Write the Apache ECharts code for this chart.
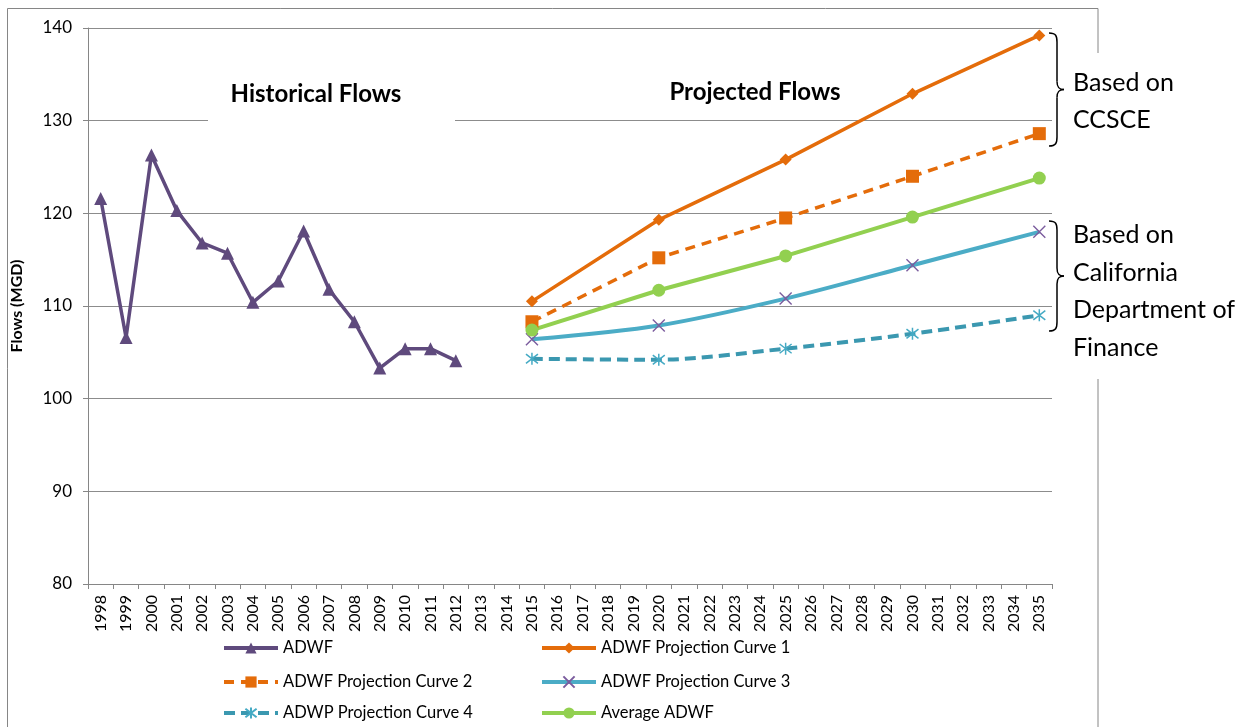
<!DOCTYPE html>
<html>
<head>
<meta charset="utf-8">
<title>Historical and Projected ADWF</title>
<script src="https://cdn.jsdelivr.net/npm/echarts@6/dist/echarts.min.js"></script>
<style>
  html, body { margin: 0; padding: 0; background: #fff; }
  #chart { width: 1243px; height: 727px; }
</style>
</head>
<body>
<div id="chart"></div>
<script>
// Years on the category axis
const years = [];
for (let y = 1998; y <= 2035; y++) years.push(String(y));

// Historical average dry weather flow (MGD), 1998-2012
const histYears = ['1998','1999','2000','2001','2002','2003','2004','2005','2006','2007','2008','2009','2010','2011','2012'];
const adwf = [121.6, 106.6, 126.3, 120.3, 116.8, 115.7, 110.4, 112.7, 118.1, 111.8, 108.3, 103.3, 105.4, 105.4, 104.1];

// Projection years and curves (MGD)
const projYears = ['2015','2020','2025','2030','2035'];
const curve1 = [110.5, 119.3, 125.8, 132.9, 139.2];
const curve2 = [108.3, 115.2, 119.5, 124.0, 128.6];
const curve3 = [106.4, 107.9, 110.8, 114.4, 118.0];
const curve4 = [104.3, 104.2, 105.4, 107.0, 109.0];
const avgAdwf = [107.4, 111.7, 115.4, 119.6, 123.8];

const yTicks = { min: 80, max: 140, interval: 10 };

const FONT = 'Lato, "Open Sans", sans-serif';

const pairs = (xs, vs) => xs.map((x, i) => [x, vs[i]]);

const xMark = 'path://M0,0L10,10M10,0L0,10';
const starMark = 'path://M0,0L10,10M10,0L0,10M5,-1.5L5,11.5';

// Right-hand curly brace built from bezier pieces
function brace(x, top, bottom) {
  const mid = (top + bottom) / 2;
  const sx = x + 8, tip = x + 15;
  const st = { fill: 'none', stroke: '#000', lineWidth: 1.5 };
  return [
    { type: 'bezierCurve', z: 10, shape: { x1: x, y1: top, cpx1: x + 7, cpy1: top, cpx2: sx, cpy2: top + 3, x2: sx, y2: top + 9 }, style: st },
    { type: 'line', z: 10, shape: { x1: sx, y1: top + 9, x2: sx, y2: mid - 8 }, style: st },
    { type: 'bezierCurve', z: 10, shape: { x1: sx, y1: mid - 8, cpx1: sx, cpy1: mid - 2, cpx2: sx + 2, cpy2: mid, x2: tip, y2: mid }, style: st },
    { type: 'bezierCurve', z: 10, shape: { x1: tip, y1: mid, cpx1: sx + 2, cpy1: mid, cpx2: sx, cpy2: mid + 2, x2: sx, y2: mid + 8 }, style: st },
    { type: 'line', z: 10, shape: { x1: sx, y1: mid + 8, x2: sx, y2: bottom - 9 }, style: st },
    { type: 'bezierCurve', z: 10, shape: { x1: sx, y1: bottom - 9, cpx1: sx, cpy1: bottom - 3, cpx2: x + 7, cpy2: bottom, x2: x, y2: bottom }, style: st }
  ];
}

function note(text, x, y) {
  return { type: 'text', z: 10, x: x, y: y,
    style: { text: text, font: '25px ' + FONT, fill: '#000', textAlign: 'left', textVerticalAlign: 'middle' } };
}

// One legend box per entry, laid out in two columns
function legendItem(name, left, centerY) {
  return {
    data: [name],
    left: left, top: centerY - 10,
    padding: 0,
    itemWidth: 54, itemHeight: 14,
    lineStyle: { width: 4 },
    textStyle: { fontSize: 16.5, color: '#000', fontFamily: FONT, lineHeight: 20 }
  };
}

const chart = echarts.init(document.getElementById('chart'), null, { renderer: 'canvas' });

const option = {
  backgroundColor: '#fff',
  animation: false,
  textStyle: { fontFamily: FONT },
  grid: { left: 88, top: 28, width: 964, height: 556, containLabel: false },
  xAxis: {
    type: 'category',
    data: years,
    boundaryGap: true,
    axisLine: { lineStyle: { color: '#868686', width: 1 } },
    axisTick: { show: true, length: 5, lineStyle: { color: '#868686' } },
    axisLabel: { rotate: 90, interval: 0, color: '#000', fontSize: 16, margin: 11, fontFamily: FONT },
    splitLine: { show: false }
  },
  yAxis: {
    type: 'value',
    min: yTicks.min,
    max: yTicks.max,
    interval: yTicks.interval,
    name: 'Flows (MGD)',
    nameLocation: 'middle',
    nameGap: 63,
    nameTextStyle: { fontWeight: 'bold', fontSize: 16, color: '#000', fontFamily: FONT },
    axisLine: { show: true, lineStyle: { color: '#868686', width: 1 } },
    axisTick: { show: true, length: 5, lineStyle: { color: '#868686' } },
    axisLabel: { color: '#000', fontSize: 17, margin: 16, fontFamily: FONT },
    splitLine: { lineStyle: { color: '#8c8c8c', width: 1 } }
  },
  legend: [
    legendItem('ADWF', 222, 648),
    legendItem('ADWF Projection Curve 2', 222, 682),
    legendItem('ADWP Projection Curve 4', 222, 713),
    legendItem('ADWF Projection Curve 1', 540, 648),
    legendItem('ADWF Projection Curve 3', 540, 682),
    legendItem('Average ADWF', 540, 713)
  ],
  series: [
    {
      name: 'ADWF', type: 'line',
      data: pairs(histYears, adwf),
      symbol: 'triangle', symbolSize: 13,
      lineStyle: { color: '#5f4a7d', width: 3.5 },
      itemStyle: { color: '#5f4a7d' }
    },
    {
      name: 'ADWF Projection Curve 1', type: 'line',
      data: pairs(projYears, curve1),
      symbol: 'diamond', symbolSize: 12,
      lineStyle: { color: '#e46c0a', width: 3.5 },
      itemStyle: { color: '#e46c0a' }
    },
    {
      name: 'ADWF Projection Curve 2', type: 'line',
      data: pairs(projYears, curve2),
      symbol: 'rect', symbolSize: 13,
      lineStyle: { color: '#e46c0a', width: 3.5, type: [10, 7] },
      itemStyle: { color: '#e46c0a' }
    },
    {
      name: 'ADWF Projection Curve 3', type: 'line',
      data: pairs(projYears, curve3),
      smooth: 0.3,
      symbol: xMark, symbolSize: 12,
      lineStyle: { color: '#4bacc6', width: 4 },
      itemStyle: { color: 'transparent', borderColor: '#7b5c9e', borderWidth: 1.4 }
    },
    {
      name: 'ADWP Projection Curve 4', type: 'line',
      data: pairs(projYears, curve4),
      smooth: 0.3,
      symbol: starMark, symbolSize: 12,
      lineStyle: { color: '#3b98b0', width: 4, type: [11, 6] },
      itemStyle: { color: 'transparent', borderColor: '#45aac4', borderWidth: 1.5 }
    },
    {
      name: 'Average ADWF', type: 'line',
      data: pairs(projYears, avgAdwf),
      symbol: 'circle', symbolSize: 13,
      lineStyle: { color: '#92d050', width: 4 },
      itemStyle: { color: '#92d050' }
    }
  ],
  graphic: [
    // outer chart frame
    { type: 'rect', z: 0, shape: { x: 7.5, y: 8.5, width: 1090.5, height: 740 },
      style: { fill: 'none', stroke: '#868686', lineWidth: 1 } },
    // text box backgrounds
    { type: 'rect', z: 1, shape: { x: 208, y: 66, width: 247, height: 58 },
      style: { fill: '#fff' } },
    { type: 'rect', z: 1, shape: { x: 1068, y: 53, width: 175, height: 326 },
      style: { fill: '#fff' } },
    // section headings
    { type: 'text', z: 10, x: 316, y: 94,
      style: { text: 'Historical Flows', font: 'bold 24px ' + FONT, fill: '#000', textAlign: 'center', textVerticalAlign: 'middle' } },
    { type: 'text', z: 10, x: 755, y: 92,
      style: { text: 'Projected Flows', font: 'bold 24px ' + FONT, fill: '#000', textAlign: 'center', textVerticalAlign: 'middle' } },
    ...brace(1049, 33, 146),
    ...brace(1049, 221, 331),
    note('Based on', 1073, 83),
    note('CCSCE', 1073, 120),
    note('Based on', 1073, 235),
    note('California', 1073, 273),
    note('Department of', 1073, 310),
    note('Finance', 1073, 348)
  ]
};

chart.setOption(option);
</script>
</body>
</html>
